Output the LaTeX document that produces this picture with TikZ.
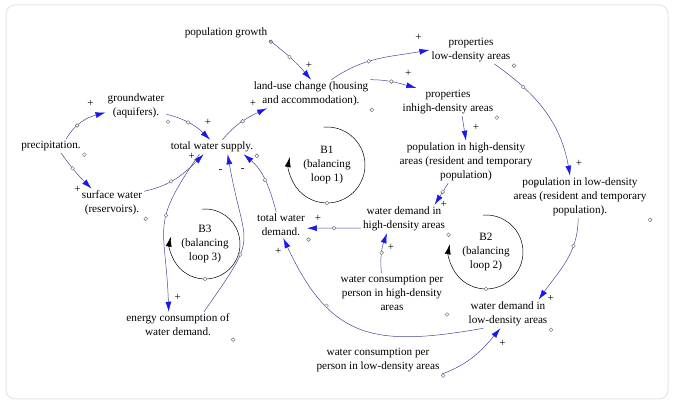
\documentclass[tikz,border=0pt]{standalone}
\usepackage{fontspec}
\setmainfont{Liberation Serif}
\usetikzlibrary{arrows.meta}

\definecolor{linkcol}{RGB}{72,72,150}
\definecolor{headcol}{RGB}{25,25,235}

\begin{document}
\begin{tikzpicture}[x=1pt, y=1pt,
  var/.style={align=center, inner sep=2pt, font=\fontsize{11.2}{14}\selectfont,
    label={[mk]south east:{}}},
  loopname/.style={align=center, inner sep=2pt, font=\fontsize{11.2}{14}\selectfont},
  mk/.style={circle, draw=black!60, line width=0.4pt, fill=white, inner sep=0pt, minimum size=3.8pt},
  link/.style={draw=linkcol, line width=0.5pt, -{Latex[length=10pt, width=6pt, color=headcol]}},
  pol/.style={font=\fontsize{11}{11}\selectfont, inner sep=0pt},
  loopc/.style={draw=black, line width=0.5pt, -{Latex[length=10pt, width=6pt]}}]
 \useasboundingbox (0,0) rectangle (673,-403);
 \draw[black!10, line width=1pt, rounded corners=9pt, fill=white] (6,-5) rectangle (668,-399);

 % variables
 \node (growth) [var] at (226,-33) {population growth};
 \node (landuse) [var] at (311,-94) {land-use change (housing\\and accommodation).};
 \node (precip) [var] at (51,-146) {precipitation.};
 \node (gw) [var] at (136,-106) {groundwater\\(aquifers).};
 \node (sw) [var] at (112,-203) {surface water\\(reservoirs).};
 \node (supply) [var] at (212,-147) {total water supply.};
 \node (proplow) [var] at (471,-50) {properties\\low-density areas};
 \node (prophigh) [var] at (448,-102) {properties\\inhigh-density areas};
 \node (pophigh) [var] at (466,-162) {population in high-density\\areas (resident and temporary\\population)};
 \node (poplow) [var] at (580,-197) {population in low-density\\areas (resident and temporary\\population).};
 \node (demhigh) [var] at (404,-219) {water demand in\\high-density areas};
 \node (demlow) [var] at (508,-314) {water demand in\\low-density areas};
 \node (consh) [var] at (392,-293) {water consumption per\\person in high-density\\areas};
 \node (consl) [var] at (378,-360) {water consumption per\\person in low-density areas};
 \node (demand) [var] at (281,-225) {total water\\demand.};
 \node (energy) [var] at (178,-325) {energy consumption of\\water demand.};

 % loops
 \node (b1) [loopname] at (327,-165) {B1\\(balancing\\loop 1)};
 \node (b2) [loopname] at (486,-252) {B2\\(balancing\\loop 2)};
 \node (b3) [loopname] at (205,-244) {B3\\(balancing\\loop 3)};
 \foreach \b/\r in {b1/38, b2/37, b3/35} {
   \draw[loopc] (\b) ++(95:\r) arc[start angle=95, end angle=-192, radius=\r];
   \path (\b) ++(-90:\r) node[mk] {};
 }

 % links
 \draw[link] (growth.south east) to[out=-38, in=130] node[mk, pos=.45] {} node[pol, pos=1, shift={(-2,14)}] {+} (landuse.north);
 \draw[link] (landuse.35) to[out=35, in=190] node[mk, pos=.4] {} node[pol, pos=1, shift={(-11,13)}] {+} (proplow.west);
 \draw[link] (landuse.north east) to[out=0, in=165] node[mk, pos=.45] {} node[pol, pos=1, shift={(-8,14)}] {+} (prophigh.156);
 \draw[link] (prophigh.-45) -- node[pol, pos=1, shift={(10,13)}] {+} (pophigh.north);
 \draw[link] (proplow.-31) to[out=-35, in=100] node[mk, pos=.25] {} node[pol, pos=1, shift={(9,12)}] {+} (poplow.115);
 \draw[link] (pophigh.-130) -- node[mk, pos=.4] {} node[pol, pos=1, shift={(9,0)}] {+} (demhigh.25);
 \draw[link] (poplow.-95) to[out=-90, in=55] node[mk, pos=.3] {} node[pol, pos=1, shift={(12,1)}] {+} (demlow.25);
 \draw[link] (demhigh.192) -- node[mk, pos=.5] {} node[pol, pos=1, shift={(11,10)}] {+} (demand.-7);
 \draw[link] (consh.118) to[out=95, in=-110] node[mk, pos=.5] {} node[pol, pos=1, shift={(4,-14)}] {+} (demhigh.-140);
 \draw[link] (demlow.-150) to[out=190, in=-65, looseness=1.3] node[mk, pos=.7] {} node[pol, pos=1, shift={(-5,-13)}] {+} (demand.-80);
 \draw[link] (consl.south east) to[out=20, in=-130] node[pol, pos=1, shift={(2,-15)}] {+} (demlow.-118);
 \draw[link] (gw.-15) to[out=-15, in=135] node[mk, pos=.45] {} node[pol, pos=1, shift={(-2,17)}] {+} (supply.105);
 \draw[link] (precip.25) to[out=60, in=195] node[mk, pos=.35] {} node[pol, pos=1, shift={(-15,9)}] {+} (gw.192);
 \draw[link] (precip.-35) to[out=-55, in=135] node[mk, pos=.4] {} node[pol, pos=1, shift={(-14,-1)}] {+} (sw.145);
 \draw[link] (sw.20) to[out=12, in=-135] node[mk, pos=.4] {} node[pol, pos=1, shift={(-12,-2)}] {+} (supply.-139);
 \draw[link] (supply.35) to[out=50, in=-155] node[mk, pos=.5] {} node[pol, pos=1, shift={(-14,5)}] {+} (landuse.-162);
 \draw[link] (supply.-150) to[out=-125, in=92, looseness=1.4] node[mk, pos=.4] {} node[pol, pos=1, shift={(9,14)}] {+} (energy.125);
 \draw[link] (energy.27) to[out=55, in=-80, looseness=1.6] node[mk, pos=.35] {} node[pol, pos=1, shift={(-7,-17)}] {-} (supply.-25);
 \draw[link] (demand.110) to[out=105, in=-40] node[mk, pos=.5] {} node[pol, pos=1, shift={(-1,-16)}] {-} (supply.-13);
\end{tikzpicture}
\end{document}
